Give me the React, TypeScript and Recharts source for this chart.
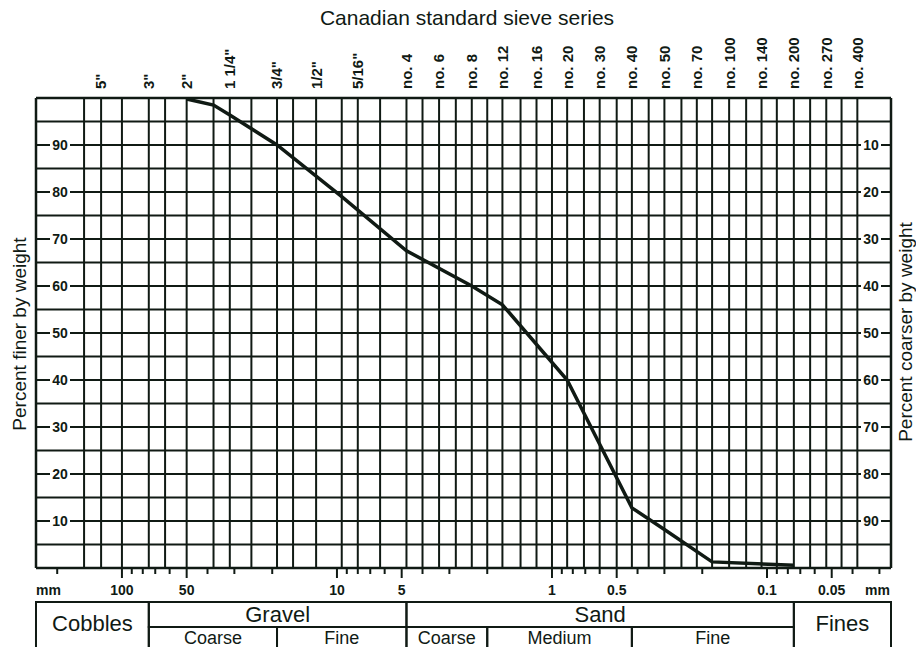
import React from "react";
import {
  LineChart,
  Line,
  XAxis,
  YAxis,
  CartesianGrid,
  ReferenceArea,
} from "recharts";

// sieve openings (mm) that get a vertical grid line
const sieveOpenings = [
  150, 125, 100, 75, 63, 50, 37.5, 31.5, 25, 19, 16, 12.5, 9.5, 8, 6.3, 4.75, 4,
  3.35, 2.8, 2.36, 2, 1.7, 1.4, 1.18, 1, 0.85, 0.71, 0.6, 0.5, 0.425, 0.355,
  0.3, 0.25, 0.212, 0.18, 0.15, 0.125, 0.106, 0.09, 0.075, 0.063, 0.053, 0.045,
  0.038,
];

// sieves named along the top
const labeledSieveMm = [
  125, 75, 50, 31.5, 19, 12.5, 8, 4.75, 3.35, 2.36, 1.7, 1.18, 0.85, 0.6, 0.425,
  0.3, 0.212, 0.15, 0.106, 0.075, 0.053, 0.038,
];
const labeledSieveText = [
  '5"', '3"', '2"', '1 1/4"', '3/4"', '1/2"', '5/16"', "no. 4", "no. 6",
  "no. 8", "no. 12", "no. 16", "no. 20", "no. 30", "no. 40", "no. 50",
  "no. 70", "no. 100", "no. 140", "no. 200", "no. 270", "no. 400",
];

// grading curve
const grainSizeMm = [50, 37.5, 31.5, 19, 9.5, 4.75, 2.36, 1.7, 0.85, 0.425, 0.3, 0.18, 0.075];
const percentFiner = [99.8, 98.5, 96.4, 90, 79, 67.5, 60, 56, 40, 12.8, 8.2, 1.3, 0.6];

// bottom mm scale
const mmTicks = [
  200, 100, 90, 80, 70, 60, 50, 40, 30, 20, 10, 9, 8, 7, 6, 5, 4, 3, 2, 1, 0.9,
  0.8, 0.7, 0.6, 0.5, 0.4, 0.3, 0.2, 0.1, 0.09, 0.08, 0.07, 0.06, 0.05, 0.04,
  0.03,
];
const mmTickLabels = [100, 50, 10, 5, 1, 0.5, 0.1, 0.05];

const percentGrid = [0, 5, 10, 15, 20, 25, 30, 35, 40, 45, 50, 55, 60, 65, 70, 75, 80, 85, 90, 95, 100];
const percentLabels = [10, 20, 30, 40, 50, 60, 70, 80, 90];

// soil classes
const mainClasses = ["Cobbles", "Gravel", "Sand", "Fines"];
const mainFrom = [251, 75, 4.75, 0.075];
const mainTo = [75, 4.75, 0.075, 0.0265];
const mainSpansRows = [true, false, false, true];
const subClasses = ["Coarse", "Fine", "Coarse", "Medium", "Fine"];
const subFrom = [75, 19, 4.75, 2, 0.425];
const subTo = [19, 4.75, 2, 0.425, 0.075];

const INK = "#101a14";
const FONT = "'Liberation Sans', Arial, Helvetica, sans-serif";
const X_DOMAIN = [0.0265, 251];
const PLOT_TOP = 98;
const PLOT_BOTTOM = 568;
const PLOT_LEFT = 36;
const PLOT_RIGHT = 891;
// table rows, in percent-axis units below the plot
const TABLE_TOP = -7.23;
const TABLE_MID = -12.55;
const TABLE_BOTTOM = -17.2;

const curve = grainSizeMm.map((mm, i) => ({ mm, finer: percentFiner[i] }));

const SieveTick = (props: any) => {
  const { x, payload } = props;
  const i = labeledSieveMm.indexOf(payload.value);
  if (i < 0) return <g />;
  const y = PLOT_TOP - 9;
  return (
    <text
      x={x}
      y={y}
      dy="0.36em"
      transform={`rotate(-90 ${x} ${y})`}
      fontSize={15}
      fontWeight="bold"
      fontFamily={FONT}
      fill={INK}
    >
      {labeledSieveText[i]}
    </text>
  );
};

const MmTick = (props: any) => {
  const { x, payload } = props;
  const major = mmTickLabels.includes(payload.value);
  return (
    <g>
      <line x1={x} x2={x} y1={PLOT_BOTTOM} y2={PLOT_BOTTOM + (major ? 10 : 6)} stroke={INK} strokeWidth={2} />
      {major && (
        <text x={x} y={595} textAnchor="middle" fontSize={14} fontWeight="bold" fontFamily={FONT} fill={INK}>
          {payload.value}
        </text>
      )}
    </g>
  );
};

const PercentLabel = ({ cx, y, value }: { cx: number; y: number; value: number }) => (
  <g>
    <rect x={cx - 10} y={y - 7} width={20} height={14} fill="#fff" />
    <text x={cx} y={y} dy="0.36em" textAnchor="middle" fontSize={14} fontWeight="bold" fontFamily={FONT} fill={INK}>
      {value}
    </text>
  </g>
);

// percent finer on the left, percent coarser (100 - finer) on the right
const PercentTick = (props: any) => {
  const { y, payload } = props;
  if (!percentLabels.includes(payload.value)) return <g />;
  return (
    <g>
      <PercentLabel cx={PLOT_LEFT + 24} y={y} value={payload.value} />
      <PercentLabel cx={PLOT_RIGHT - 20} y={y} value={100 - payload.value} />
    </g>
  );
};

const textStyle: React.CSSProperties = {
  position: "absolute",
  fontFamily: FONT,
  color: INK,
  whiteSpace: "nowrap",
  lineHeight: 1,
};

export default function App() {
  return (
    <div style={{ position: "absolute", left: 0, top: 0, width: 916, height: 647, background: "#fff", overflow: "hidden" }}>
      <LineChart
        width={916}
        height={647}
        data={curve}
        margin={{ top: PLOT_TOP, right: 916 - PLOT_RIGHT, bottom: 647 - PLOT_BOTTOM, left: PLOT_LEFT }}
      >
        <CartesianGrid xAxisId="sieve" yAxisId="finer" stroke={INK} strokeWidth={2} />

        {/* top: sieve series */}
        <XAxis
          xAxisId="sieve"
          orientation="top"
          mirror
          type="number"
          dataKey="mm"
          scale="log"
          domain={X_DOMAIN}
          allowDataOverflow
          reversed
          ticks={sieveOpenings}
          interval={0}
          tickLine={false}
          axisLine={{ stroke: INK, strokeWidth: 2.5 }}
          tick={<SieveTick />}
        />

        {/* bottom: grain size in mm */}
        <XAxis
          xAxisId="mm"
          orientation="bottom"
          mirror
          type="number"
          dataKey="mm"
          scale="log"
          domain={X_DOMAIN}
          allowDataOverflow
          reversed
          ticks={mmTicks}
          interval={0}
          tickLine={false}
          axisLine={{ stroke: INK, strokeWidth: 2.5 }}
          tick={<MmTick />}
        />

        <YAxis
          yAxisId="finer"
          mirror
          type="number"
          domain={[0, 100]}
          ticks={percentGrid}
          interval={0}
          tickLine={false}
          axisLine={{ stroke: INK, strokeWidth: 2.5 }}
          tick={<PercentTick />}
        />
        <YAxis
          yAxisId="coarser"
          orientation="right"
          mirror
          reversed
          type="number"
          domain={[0, 100]}
          tick={false}
          tickLine={false}
          axisLine={{ stroke: INK, strokeWidth: 2.5 }}
        />

        <Line
          xAxisId="sieve"
          yAxisId="finer"
          type="linear"
          dataKey="finer"
          stroke={INK}
          strokeWidth={3.5}
          dot={false}
          isAnimationActive={false}
        />

        {/* classification table under the scale */}
        {mainClasses.map((name, i) => (
          <ReferenceArea
            key={name}
            xAxisId="mm"
            yAxisId="finer"
            x1={mainFrom[i]}
            x2={mainTo[i]}
            y1={TABLE_TOP}
            y2={mainSpansRows[i] ? TABLE_BOTTOM : TABLE_MID}
            ifOverflow="visible"
            fill="none"
            stroke={INK}
            strokeWidth={2}
            label={{
              value: name,
              position: mainSpansRows[i] ? "insideTop" : "center",
              offset: 13,
              fontSize: 22,
              fill: INK,
              fontFamily: FONT,
            }}
          />
        ))}
        {subClasses.map((name, i) => (
          <ReferenceArea
            key={`${name}-${i}`}
            xAxisId="mm"
            yAxisId="finer"
            x1={subFrom[i]}
            x2={subTo[i]}
            y1={TABLE_MID}
            y2={TABLE_BOTTOM}
            ifOverflow="visible"
            fill="none"
            stroke={INK}
            strokeWidth={2}
            label={{ value: name, position: "center", fontSize: 18, fill: INK, fontFamily: FONT }}
          />
        ))}
      </LineChart>

      <div style={{ ...textStyle, left: 467, top: 7, fontSize: 21, transform: "translateX(-50%)" }}>
        Canadian standard sieve series
      </div>
      <div style={{ ...textStyle, left: 19, top: 334, fontSize: 19, transform: "translate(-50%, -50%) rotate(-90deg)" }}>
        Percent finer by weight
      </div>
      <div style={{ ...textStyle, left: 905, top: 332, fontSize: 19, transform: "translate(-50%, -50%) rotate(-90deg)" }}>
        Percent coarser by weight
      </div>
      <div style={{ ...textStyle, left: 36, top: 583, fontSize: 14, fontWeight: "bold" }}>mm</div>
      <div style={{ ...textStyle, right: 916 - 890, top: 583, fontSize: 14, fontWeight: "bold" }}>mm</div>
    </div>
  );
}
